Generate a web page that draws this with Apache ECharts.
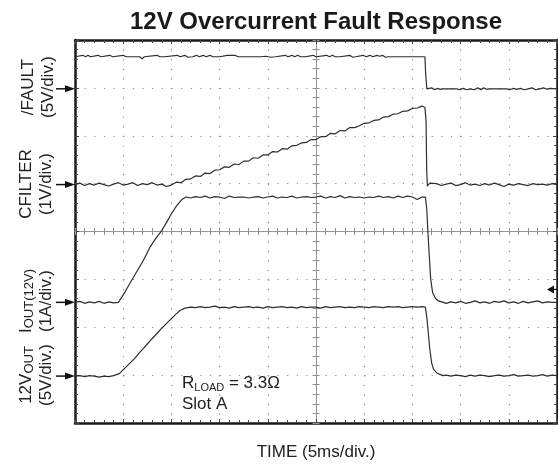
<!DOCTYPE html>
<html><head><meta charset="utf-8">
<script src="https://cdn.jsdelivr.net/npm/echarts@6/dist/echarts.min.js"></script>
<style>html,body{margin:0;padding:0;background:#fff}#c{width:558px;height:465px}</style>
</head><body><div id="c"></div>
<script>
const FONT = '"Liberation Sans", Arial, Helvetica, sans-serif';
const titleText = '12V Overcurrent Fault Response';
const xLabelText = 'TIME (5ms/div.)';
// x: time in ms (5 ms/div, 10 div); y: screen divisions (0 = bottom of graticule, 8 = top)
const faultTrace = [[0,7.65],[0.8,7.68],[1.1,7.65],[1.35,7.68],[1.6,7.65],[2.4,7.68],[2.7,7.65],[3.6,7.68],[3.9,7.65],[5.0,7.68],[5.3,7.65],[6.7,7.65],[6.95,7.61],[7.2,7.65],[8.5,7.68],[8.8,7.65],[9.0,7.68],[9.3,7.65],[10.6,7.68],[10.9,7.65],[11.4,7.68],[11.7,7.64],[11.9,7.68],[12.2,7.65],[12.6,7.68],[12.9,7.65],[13.3,7.68],[13.6,7.65],[14.0,7.68],[14.3,7.65],[14.6,7.65],[14.8,7.62],[15.0,7.65],[15.8,7.68],[16.0,7.66],[16.2,7.68],[16.4,7.66],[16.6,7.68],[16.9,7.65],[19.3,7.65],[19.5,7.68],[19.8,7.66],[20.0,7.68],[20.3,7.64],[20.5,7.68],[20.8,7.65],[21.8,7.68],[22.1,7.65],[22.5,7.68],[22.8,7.65],[23.1,7.68],[23.4,7.65],[23.6,7.68],[23.9,7.65],[24.7,7.68],[25.0,7.65],[26.1,7.68],[26.4,7.65],[26.7,7.68],[27.0,7.65],[27.2,7.67],[27.5,7.65],[28.5,7.68],[28.8,7.64],[29.1,7.65],[29.9,7.68],[30.2,7.65],[30.6,7.68],[30.9,7.65],[31.3,7.68],[31.6,7.66],[31.9,7.68],[32.2,7.64],[32.5,7.65],[35.5,7.65],[36.3,7.65],[36.37,7.31],[36.45,7.30],[36.5,6.98],[37.0,7.0],[37.3,6.96],[37.6,6.99],[37.9,6.97],[38.2,6.98],[39.6,6.98],[39.9,6.96],[40.3,6.99],[40.6,6.96],[41.0,6.98],[41.4,6.96],[41.8,7.0],[42.1,6.96],[42.4,7.0],[42.7,6.97],[43.0,6.98],[44.8,6.98],[45.1,6.96],[45.5,6.99],[45.8,6.97],[46.2,6.99],[46.6,6.96],[47.0,6.98],[47.4,7.0],[47.8,6.96],[48.2,6.98],[48.6,7.0],[49.0,6.97],[49.3,6.99],[50,6.98]];
const cfilterTrace = [[0,4.98],[0.5,5.01],[1,4.96],[1.5,5.00],[2,4.97],[2.5,5.01],[3,4.98],[3.5,4.95],[4,4.99],[4.5,5.02],[5,4.97],[5.5,4.99],[6,5.02],[6.5,4.96],[7,5.00],[7.5,4.98],[8,5.02],[8.5,4.97],[9,4.99],[9.5,4.94],[10,4.97],[10.5,5.03],[11,5.02],[11.5,5.09],[12,5.10],[12.5,5.16],[13,5.15],[13.5,5.22],[14,5.21],[14.5,5.28],[15,5.29],[15.5,5.35],[16,5.34],[16.5,5.41],[17,5.40],[17.5,5.47],[18,5.47],[18.5,5.54],[19,5.53],[19.5,5.60],[20,5.60],[20.5,5.67],[21,5.66],[21.5,5.73],[22,5.72],[22.5,5.79],[23,5.80],[23.5,5.85],[24,5.86],[24.5,5.92],[25,5.92],[25.5,5.98],[26,5.98],[26.5,6.05],[27,6.04],[27.5,6.11],[28,6.10],[28.5,6.17],[29,6.17],[29.5,6.21],[30,6.26],[30.5,6.27],[31,6.32],[31.5,6.33],[32,6.39],[32.5,6.40],[33,6.45],[33.5,6.46],[34,6.51],[34.5,6.52],[35,6.57],[35.5,6.58],[36,6.62],[36.2,6.63],[36.3,6.59],[36.42,6.3],[36.48,5.3],[36.55,4.95],[36.8,5.01],[37,4.97],[37.5,5.00],[38,4.96],[38.5,4.99],[39,5.01],[39.5,4.96],[40,4.98],[40.5,5.02],[41,4.97],[41.5,4.99],[42,4.96],[42.5,5.00],[43,4.97],[43.5,5.01],[44,4.98],[44.5,4.94],[45,4.99],[45.5,4.97],[46,5.00],[46.5,4.98],[47,4.96],[47.5,5.00],[48,4.98],[48.5,4.99],[49,4.97],[49.5,5.00],[50,4.98]];
const ioutTrace = [[0,2.52],[0.5,2.54],[1,2.50],[1.5,2.53],[2,2.51],[2.5,2.54],[3,2.50],[3.5,2.53],[4,2.51],[4.5,2.52],[4.7,2.53],[5.2,2.74],[5.7,2.92],[6.4,3.16],[7.1,3.40],[7.8,3.68],[8.4,3.86],[9.0,4.02],[9.5,4.19],[10.0,4.37],[10.55,4.54],[11.1,4.67],[11.5,4.72],[12,4.70],[12.5,4.73],[13,4.71],[13.5,4.74],[14,4.70],[14.5,4.73],[15,4.72],[15.5,4.69],[16,4.74],[16.5,4.71],[17,4.72],[17.5,4.72],[18,4.70],[18.5,4.72],[19,4.73],[19.5,4.70],[20,4.72],[20.5,4.74],[21,4.70],[21.5,4.72],[22,4.71],[22.5,4.74],[23,4.70],[23.5,4.72],[24,4.73],[24.5,4.71],[25,4.72],[25.5,4.74],[26,4.70],[26.5,4.73],[27,4.71],[27.5,4.75],[28,4.70],[28.5,4.73],[29,4.71],[29.5,4.72],[30,4.70],[30.5,4.72],[31,4.71],[31.5,4.74],[32,4.71],[32.5,4.73],[33,4.70],[33.5,4.74],[34,4.71],[34.5,4.74],[35,4.72],[35.5,4.67],[36,4.72],[36.35,4.72],[36.5,4.45],[36.6,4.02],[36.75,3.5],[36.9,3.0],[37.1,2.72],[37.4,2.60],[37.7,2.55],[38.2,2.52],[38.5,2.50],[39,2.53],[39.5,2.51],[40,2.54],[40.5,2.50],[41,2.52],[41.5,2.55],[42,2.51],[42.5,2.53],[43,2.50],[43.5,2.54],[44,2.52],[44.5,2.55],[45,2.51],[45.5,2.53],[46,2.50],[46.5,2.54],[47,2.51],[47.5,2.53],[48,2.55],[48.5,2.51],[49,2.53],[49.5,2.52],[50,2.52]];
const vout12Trace = [[0,0.98],[0.5,0.99],[1,0.97],[1.5,0.99],[2,0.98],[2.5,0.96],[3,0.98],[3.5,0.97],[4,0.99],[4.15,0.98],[4.6,1.03],[5.2,1.15],[5.7,1.25],[6.2,1.35],[6.65,1.46],[7.1,1.56],[7.5,1.65],[7.95,1.75],[8.5,1.87],[9.0,1.98],[9.5,2.08],[10.05,2.19],[10.5,2.28],[10.9,2.35],[11.4,2.40],[12,2.42],[12.5,2.41],[13,2.43],[13.5,2.41],[14,2.42],[14.5,2.44],[15,2.41],[15.5,2.42],[16,2.40],[16.5,2.43],[17,2.41],[17.5,2.42],[18,2.43],[18.5,2.41],[19,2.42],[19.5,2.40],[20,2.43],[20.5,2.41],[21,2.42],[21.5,2.43],[22,2.41],[22.5,2.42],[23,2.40],[23.5,2.43],[24,2.41],[24.5,2.42],[25,2.42],[25.5,2.40],[26,2.43],[26.5,2.41],[27,2.42],[27.5,2.43],[28,2.41],[28.5,2.42],[29,2.41],[29.5,2.43],[30,2.42],[30.5,2.41],[31,2.43],[31.5,2.42],[32,2.41],[32.5,2.43],[33,2.42],[33.5,2.43],[34,2.41],[34.5,2.42],[35,2.43],[35.5,2.42],[36,2.43],[36.35,2.42],[36.5,2.2],[36.65,1.88],[36.8,1.55],[37.0,1.25],[37.2,1.12],[37.5,1.05],[37.8,1.02],[38.2,0.99],[38.5,1.00],[39,0.98],[39.5,1.00],[40,0.99],[40.5,0.97],[41,1.00],[41.5,0.98],[42,1.00],[42.5,0.99],[43,0.97],[43.5,0.99],[44,1.00],[44.5,0.98],[45,0.99],[45.5,1.01],[46,0.98],[46.5,0.99],[47,1.00],[47.5,0.98],[48,0.99],[48.5,1.01],[49,0.98],[49.5,1.00],[50,0.99]];
// channel ground markers (divisions) and trigger level (divisions)
const groundLevels = [6.98, 4.98, 2.52, 0.98];
const triggerLevel = 2.79;

const chart = echarts.init(document.getElementById('c'), null, {renderer:'canvas'});
const DOT = '#8a8a8a', FRAME = '#1a1a1a', TRACE = '#2e2e2e', CENTER = '#909090';
function frameAxis(isX, pos, withSplit){
  return {type:'value', min:0, max: isX?50:8, interval: isX?5:1, position:pos,
    axisLine:{show:true, onZero:false, lineStyle:{color:FRAME, width:2.5}},
    axisTick:{show:true, inside:true, length:4, lineStyle:{color:'#444', width:1}},
    minorTick:{show:true, splitNumber:5, length:3, lineStyle:{color:'#444', width:1}},
    axisLabel:{show:false},
    splitLine:{show:!!withSplit, lineStyle:{color:DOT, width:1.2, type: isX?[1.2,8.38]:[1.2,8.44]}},
    minorSplitLine:{show:false}};
}
function centerAxis(isX, inside){
  return {type:'value', min:0, max: isX?50:8, interval: isX?5:1, position: isX?'bottom':'left',
    offset: isX ? -191.5 : -241,
    axisLine:{show:true, onZero:false, lineStyle:{color:CENTER, width:1, type:[1,1]}},
    axisTick:{show:true, inside:inside, length:3.5, lineStyle:{color:CENTER, width:1}},
    minorTick:{show:true, splitNumber:5, length:3.5, lineStyle:{color:CENTER, width:1}},
    axisLabel:{show:false}, splitLine:{show:false}};
}
function trace(name, data){
  return {name, type:'line', data, xAxisIndex:0, yAxisIndex:0, showSymbol:false, symbol:'none',
    lineStyle:{color:TRACE, width:1.2}, z:5, animation:false, silent:true};
}
const rich = {
  a:{fontFamily:FONT, fontSize:17, lineHeight:20, fill:'#222'},
  s:{fontFamily:FONT, fontSize:13, lineHeight:10, verticalAlign:'bottom', fill:'#222'}
};
function vLabel(x, y, line1, line2){
  return {type:'text', x, y, rotation:Math.PI/2, z:10,
    style:{text: line1 + '\n' + line2, rich, align:'center', verticalAlign:'middle', fontFamily:FONT, fontSize:17, fill:'#222'}};
}
chart.setOption({
  animation:false,
  backgroundColor:'#fff',
  grid:{left:75, top:40, width:482, height:383, outerBoundsMode:'none', containLabel:false},
  xAxis:[frameAxis(true,'bottom',true), frameAxis(true,'top',false), centerAxis(true,true), centerAxis(true,false)],
  yAxis:[frameAxis(false,'left',true), frameAxis(false,'right',false), centerAxis(false,true), centerAxis(false,false)],
  series:[trace('/FAULT', faultTrace), trace('CFILTER', cfilterTrace), trace('IOUT(12V)', ioutTrace), trace('12VOUT', vout12Trace)]
});

const gfx = [
  {type:'text', x:316, y:22, z:10, style:{text:titleText, fontFamily:FONT, fontWeight:'bold', fontSize:24, fill:'#1a1a1a', align:'center', verticalAlign:'middle'}},
  {type:'text', x:316, y:452, z:10, style:{text:xLabelText, fontFamily:FONT, fontSize:17, fill:'#222', align:'center', verticalAlign:'middle'}},
  vLabel(38, 87, '{a|/FAULT}', '{a|(5V/div.)}'),
  vLabel(36, 184, '{a|CFILTER}', '{a|(1V/div.)}'),
  vLabel(36, 301, '{a|I}{s|OUT(12V)}', '{a|(1A/div.)}'),
  vLabel(36, 375, '{a|12V}{s|OUT}', '{a|(5V/div.)}'),
  {type:'text', x:182, y:372.5, z:10, style:{text:'{a|R}{s|LOAD}{a| = 3.3Ω}\n{a|Slot A}', align:'left', verticalAlign:'top',
    rich:{a:{fontFamily:FONT, fontSize:17, lineHeight:21, fill:'#222'}, s:{fontFamily:FONT, fontSize:11, lineHeight:8, verticalAlign:'bottom', fill:'#222'}}}}
];
groundLevels.forEach(function(lv){
  const p = chart.convertToPixel({xAxisIndex:0, yAxisIndex:0}, [0, lv]);
  const y = p[1], xr = p[0];
  gfx.push({type:'line', z:10, shape:{x1:xr-19, y1:y, x2:xr-8, y2:y}, style:{stroke:'#111', lineWidth:1.5}});
  gfx.push({type:'polygon', z:10, shape:{points:[[xr-10,y-3.5],[xr,y],[xr-10,y+3.5]]}, style:{fill:'#111'}});
});
(function(){
  const p = chart.convertToPixel({xAxisIndex:0, yAxisIndex:0}, [50, triggerLevel]);
  const y = p[1], xr = p[0];
  gfx.push({type:'polygon', z:10, shape:{points:[[xr-10,y],[xr-3,y-4],[xr-3,y+4]]}, style:{fill:'#111'}});
  gfx.push({type:'line', z:10, shape:{x1:xr-4, y1:y, x2:xr, y2:y}, style:{stroke:'#111', lineWidth:1.2}});
})();
chart.setOption({graphic:gfx});
</script></body></html>
